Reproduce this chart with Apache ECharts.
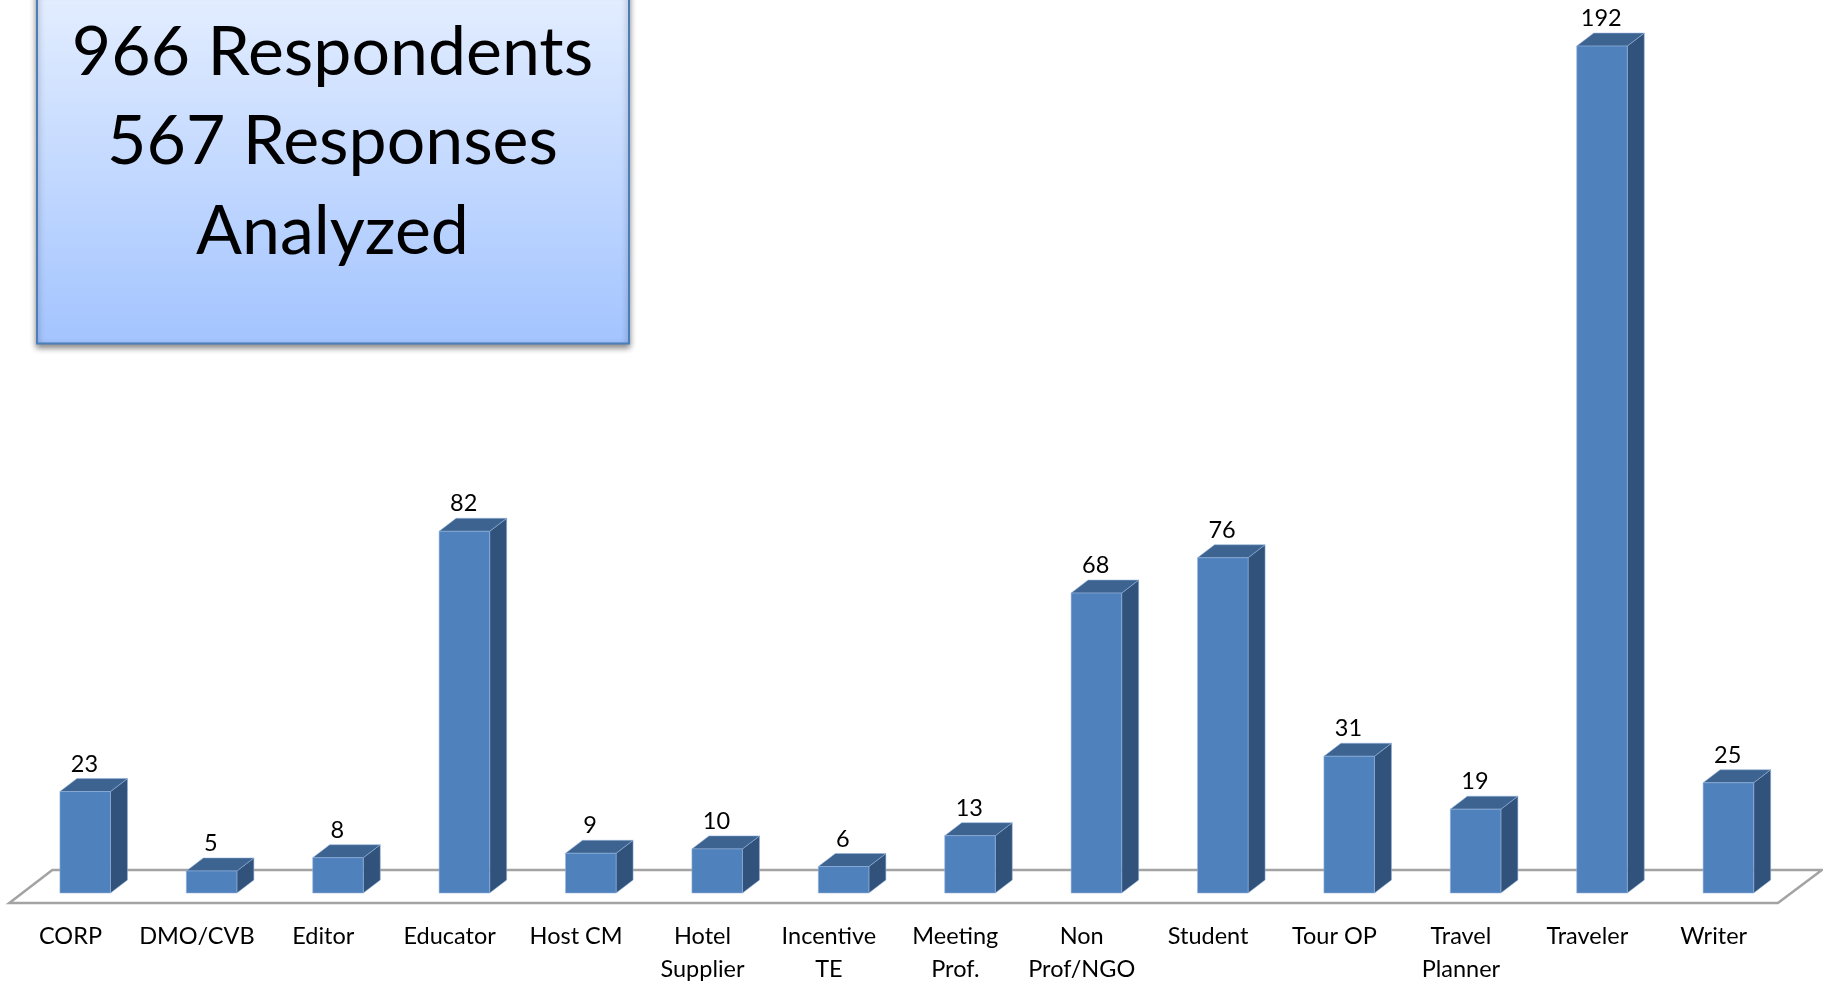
<!DOCTYPE html>
<html><head><meta charset="utf-8">
<style>html,body{margin:0;padding:0;background:#fff}#c{width:1823px;height:983px}</style>
<script src="https://cdn.jsdelivr.net/npm/echarts@6/dist/echarts.min.js"></script>
</head><body><div id="c"></div>
<script>
const categories = ['CORP','DMO/CVB','Editor','Educator','Host CM','Hotel\nSupplier','Incentive\nTE','Meeting\nProf.','Non\nProf/NGO','Student','Tour OP','Travel\nPlanner','Traveler','Writer'];
const values = [23,5,8,82,9,10,6,13,68,76,31,19,192,25];
const boxLines = ['966 Respondents','567 Responses','Analyzed'];

const FONT = 'Lato, "Open Sans", sans-serif';
const chart = echarts.init(document.getElementById('c'));
const DX = 17, DY = 13;

function renderFloor(params, api) {
  const cs = params.coordSys;
  const base = api.coord([0, 0])[1];
  const L = cs.x, R = cs.x + cs.width;
  const fy = base + 10, by = base - 23;
  return {
    type: 'polygon',
    shape: { points: [[L - 13, fy], [R - 14, fy], [R + 30, by], [L + 30, by]] },
    style: { fill: '#fff', stroke: '#A3A3A3', lineWidth: 2.5 }
  };
}
function renderBar(params, api) {
  const idx = api.value(0), v = api.value(1);
  const top = api.coord([idx, v]);
  const base = api.coord([idx, 0]);
  const w = api.size([1, 0])[0] * 0.4;
  const x0 = top[0] - w / 2 - 0.3, x1 = x0 + w;
  const y0 = top[1], y1 = base[1];
  const edge = { stroke: 'rgba(150,180,220,0.55)', lineWidth: 1 };
  return {
    type: 'group',
    children: [
      { type: 'polygon', shape: { points: [[x1, y0], [x1 + DX, y0 - DY], [x1 + DX, y1 - DY], [x1, y1]] },
        style: { fill: '#31527A', ...edge } },
      { type: 'polygon', shape: { points: [[x0, y0], [x0 + DX, y0 - DY], [x1 + DX, y0 - DY], [x1, y0]] },
        style: { fill: '#3D6391', ...edge } },
      { type: 'rect', shape: { x: x0, y: y0, width: w, height: y1 - y0 },
        style: { fill: '#4F81BD', ...edge } },
      { type: 'text', x: top[0] - 1, y: y0 - 27.5,
        style: { text: String(v), fill: '#000', font: '23.5px ' + FONT, align: 'center', verticalAlign: 'middle' } }
    ]
  };
}

chart.setOption({
  animation: false,
  backgroundColor: '#fff',
  grid: { left: 22.3, right: 31.1, top: 10.8, bottom: 90, containLabel: false, outerBoundsMode: 'none' },
  xAxis: {
    type: 'category', data: categories,
    axisLine: { show: false }, axisTick: { show: false }, splitLine: { show: false },
    axisLabel: { interval: 0, margin: 27, color: '#000', fontFamily: FONT, fontSize: 23.5, lineHeight: 33, padding: [0, 30, 0, 0] }
  },
  yAxis: { type: 'value', min: 0, max: 200, show: false },
  series: [
    { type: 'custom', z: 1, clip: false, silent: true, data: [[0, 0]], renderItem: renderFloor, encode: { x: 0, y: 1 } },
    { type: 'custom', z: 2, clip: false, data: values.map((v, i) => [i, v]), renderItem: renderBar, encode: { x: 0, y: 1 } }
  ],
  graphic: [
    { type: 'rect', z: 10, shape: { x: 37, y: -10, width: 592, height: 353.5 },
      style: {
        fill: new echarts.graphic.LinearGradient(0, 0, 0, 1, [{ offset: 0, color: '#E4EEFF' }, { offset: 1, color: '#A3C4FF' }]),
        stroke: '#4A7EBB', lineWidth: 2,
        shadowBlur: 6, shadowColor: 'rgba(0,0,0,0.45)', shadowOffsetY: 3
      } },
    ...boxLines.map((t, i) => ({
      type: 'text', z: 11, x: 332.5, y: 53 + i * 89.5,
      style: { text: t, fill: '#000', font: '68px ' + FONT, align: 'center', verticalAlign: 'middle' }
    }))
  ]
});
</script></body></html>
